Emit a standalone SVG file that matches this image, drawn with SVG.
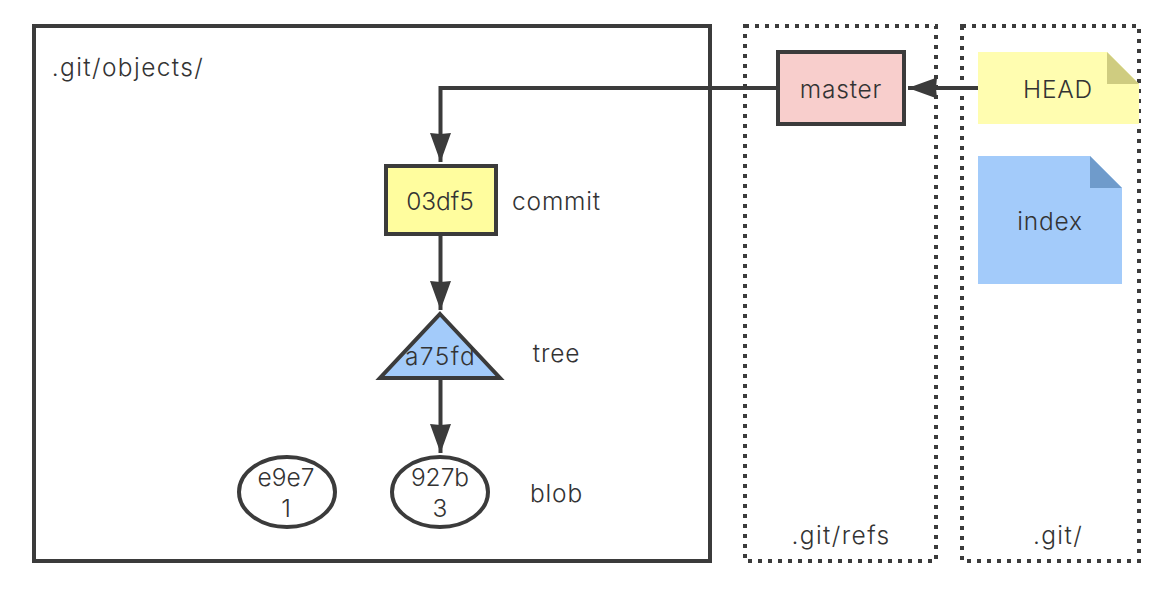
<svg xmlns="http://www.w3.org/2000/svg" width="1170" height="606" viewBox="0 0 1170 606">
<style>
text{font-family:Inter,"Liberation Sans",sans-serif;font-size:24.500px;font-weight:300;fill:#333;text-anchor:middle}
.w{letter-spacing:1.400px}
.m{letter-spacing:.8px}
.s{stroke:#3b3b3b;stroke-width:4}
.d{fill:none;stroke:#3b3b3b;stroke-width:4;stroke-dasharray:4 6}
.c{fill:none;stroke:#3b3b3b;stroke-width:4}
</style>
<defs><marker id="a" markerUnits="userSpaceOnUse" markerWidth="30" markerHeight="22" refX="29" refY="11" orient="auto"><path d="M0 .5L29 11L0 21.500L1 11Z" fill="#3b3b3b"/></marker></defs>
<rect width="1170" height="606" fill="#fff"/>
<g id="objects"><rect x="34" y="26" width="676" height="535" fill="#fff" class="s"/><text class="w" x="128" y="76">.git/objects/</text></g>
<g id="refs"><rect x="745" y="26" width="191" height="535" class="d"/><text class="w" x="841" y="544">.git/refs</text></g>
<g id="git"><rect x="962" y="26" width="177" height="535" class="d"/><text class="w" x="1058" y="544">.git/</text></g>
<g id="connectors">
<path class="c" d="M778 88H440.500V162" marker-end="url(#a)"/>
<path class="c" d="M978 88H908" marker-end="url(#a)"/>
<path class="c" d="M440.500 235V310" marker-end="url(#a)"/>
<path class="c" d="M440.500 379V453" marker-end="url(#a)"/>
</g>
<g id="master"><rect x="778" y="52" width="126" height="72" fill="#f8cecc" class="s"/><text class="m" x="841" y="98">master</text></g>
<g id="head"><path d="M978 52H1107L1139 84V124H978Z" fill="#fffdb0"/><path d="M1107 52L1139 84H1107Z" fill="#cfcc80"/><text class="m" x="1058" y="98">HEAD</text></g>
<g id="index"><path d="M978 156H1090L1122 188V284H978Z" fill="#a3cbfa"/><path d="M1090 156L1122 188H1090Z" fill="#6f9bcb"/><text class="m" x="1050" y="230">index</text></g>
<g id="commit"><rect x="386" y="166" width="110" height="68" fill="#fffd9e" class="s"/><text x="440" y="210">03df5</text></g>
<text class="m" x="556.500" y="210">commit</text>
<g id="tree"><path d="M440 314L500 378H380Z" fill="#a3cbfa" class="s"/><text class="w" x="440.500" y="365">a75fd</text></g>
<text class="m" x="556.500" y="362">tree</text>
<g id="blob1"><ellipse cx="287" cy="492" rx="48" ry="35" fill="#fff" class="s"/><text x="286" y="486">e9e7</text><text x="286" y="517">1</text></g>
<g id="blob2"><ellipse cx="440" cy="492" rx="48" ry="35" fill="#fff" class="s"/><text x="440" y="486">927b</text><text x="440" y="517">3</text></g>
<text class="m" x="556.500" y="502">blob</text>
</svg>
